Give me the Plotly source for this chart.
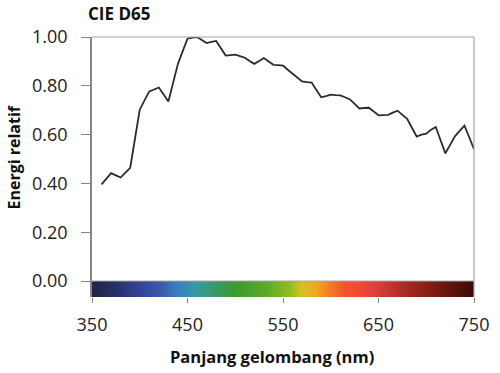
import plotly.graph_objects as go

# Wavelength (nm) and relative energy of CIE D65 (normalized to max)
wavelength = [360, 365, 370, 375, 380, 385, 390, 395, 400, 405, 410, 415, 420, 425, 430,
              435, 440, 445, 450, 455, 460, 465, 470, 475, 480, 485, 490, 495, 500, 505,
              510, 515, 520, 525, 530, 535, 540, 545, 550, 555, 560, 565, 570, 575, 580,
              585, 590, 595, 600, 605, 610, 615, 620, 625, 630, 635, 640, 645, 650, 655,
              660, 665, 670, 675, 680, 685, 690, 695, 700, 705, 710, 715, 720, 725, 730,
              735, 740, 745, 750]
energy = [0.396, 0.419, 0.442, 0.433, 0.424, 0.444, 0.464, 0.583, 0.702, 0.740, 0.777,
          0.785, 0.793, 0.764, 0.736, 0.813, 0.890, 0.942, 0.993, 0.997, 1.000, 0.988,
          0.975, 0.980, 0.984, 0.954, 0.924, 0.926, 0.928, 0.922, 0.915, 0.902, 0.890,
          0.902, 0.914, 0.900, 0.886, 0.885, 0.883, 0.866, 0.849, 0.833, 0.818, 0.815,
          0.813, 0.783, 0.753, 0.758, 0.764, 0.762, 0.761, 0.753, 0.744, 0.726, 0.707,
          0.709, 0.710, 0.695, 0.679, 0.680, 0.681, 0.690, 0.698, 0.681, 0.665, 0.628,
          0.592, 0.600, 0.604, 0.620, 0.631, 0.577, 0.523, 0.558, 0.593, 0.615, 0.637,
          0.589, 0.540]

x_ticks = [350, 450, 550, 650, 750]
y_ticks = [0.0, 0.2, 0.4, 0.6, 0.8, 1.0]

# Spectrum bar colour stops (nm, colour)
spec_nm = [350, 380, 400, 420, 440, 460, 480, 500, 530, 555, 570, 585, 600, 615, 635,
           655, 670, 690, 710, 730, 750]
spec_col = ["#1e2542", "#2a3370", "#33439a", "#3858aa", "#3a7fc0", "#379a9e", "#3a9a62",
            "#3c9a30", "#58a82a", "#8cba22", "#d6c020", "#f2a522", "#f47a2a", "#f5522f",
            "#ee4638", "#d03a38", "#b62f28", "#96241a", "#781c12", "#58130c", "#3a0c08"]

FONT = "Open Sans"
GRAY = "#868686"

W, H = 500, 373
PL, PR, PT, PB = 92, 474, 37, 297   # plot box in page px
PW, PH = PR - PL, PB - PT

colorscale = [[(w - spec_nm[0]) / (spec_nm[-1] - spec_nm[0]), c] for w, c in zip(spec_nm, spec_col)]
bar_edges = list(range(spec_nm[0], spec_nm[-1] + 1))
bar_z = [[e + 0.5 for e in bar_edges[:-1]]]
bar_bottom = -16 / 244

fig = go.Figure()
fig.add_trace(go.Heatmap(
    x=bar_edges, y=[bar_bottom, 0], z=bar_z,
    colorscale=colorscale, zmin=spec_nm[0], zmax=spec_nm[-1],
    showscale=False, hoverinfo="skip"))
fig.add_trace(go.Scatter(
    x=wavelength, y=energy, mode="lines",
    line=dict(color="#2b2b2b", width=1.8), showlegend=False))


def px_to_paper(px, py):
    return (px - PL) / PW, (PB - py) / PH


tx, ty = px_to_paper(271.5, 356)
yx, yy = px_to_paper(13.5, 158)

fig.update_layout(
    width=W, height=H,
    margin=dict(l=PL, r=W - PR, t=PT, b=H - PB, pad=0, autoexpand=False),
    paper_bgcolor="white", plot_bgcolor="white",
    font=dict(family=FONT, size=18, color="#222222"),
    title=dict(text="<b>CIE D65</b>", x=88 / W, xanchor="left", y=1 - 14 / H,
               yanchor="middle", font=dict(family=FONT, size=17, color="#111111")),
    showlegend=False,
    xaxis=dict(range=[350, 750], tickvals=x_ticks, ticktext=[str(v) for v in x_ticks],
               showgrid=False, zeroline=False, showline=False, automargin=False,
               ticks="outside", ticklen=5, tickcolor=GRAY, ticklabelstandoff=6),
    yaxis=dict(range=[bar_bottom, 1.0], tickvals=y_ticks, tickformat=".2f",
               showgrid=False, zeroline=False, showline=True, linecolor=GRAY, linewidth=1.5,
               automargin=False,
               ticks="outside", ticklen=9, tickcolor=GRAY, ticklabelstandoff=10),
    annotations=[
        dict(text="<b>Panjang gelombang (nm)</b>", xref="paper", yref="paper",
             x=tx, y=ty, xanchor="center", yanchor="middle",
             showarrow=False, font=dict(family=FONT, size=16.5, color="#111111")),
        dict(text="<b>Energi relatif</b>", xref="paper", yref="paper",
             x=yx, y=yy, xanchor="center", yanchor="middle",
             textangle=-90, showarrow=False, font=dict(family=FONT, size=16, color="#111111")),
    ],
    shapes=[
        dict(type="line", xref="x domain", yref="y domain", x0=0, x1=1, y0=1, y1=1,
             line=dict(color="#a6a6a6", width=1.2), layer="above"),
        dict(type="line", xref="x domain", yref="y domain", x0=1, x1=1, y0=0, y1=1,
             line=dict(color="#a6a6a6", width=1.2), layer="above"),
        dict(type="line", xref="x domain", yref="y", x0=0, x1=1, y0=0, y1=0,
             line=dict(color="#a6a6a6", width=1), layer="above"),
    ],
)

fig.write_html("out.html", config={"displayModeBar": False},
               post_script="document.body.style.margin='0';")
